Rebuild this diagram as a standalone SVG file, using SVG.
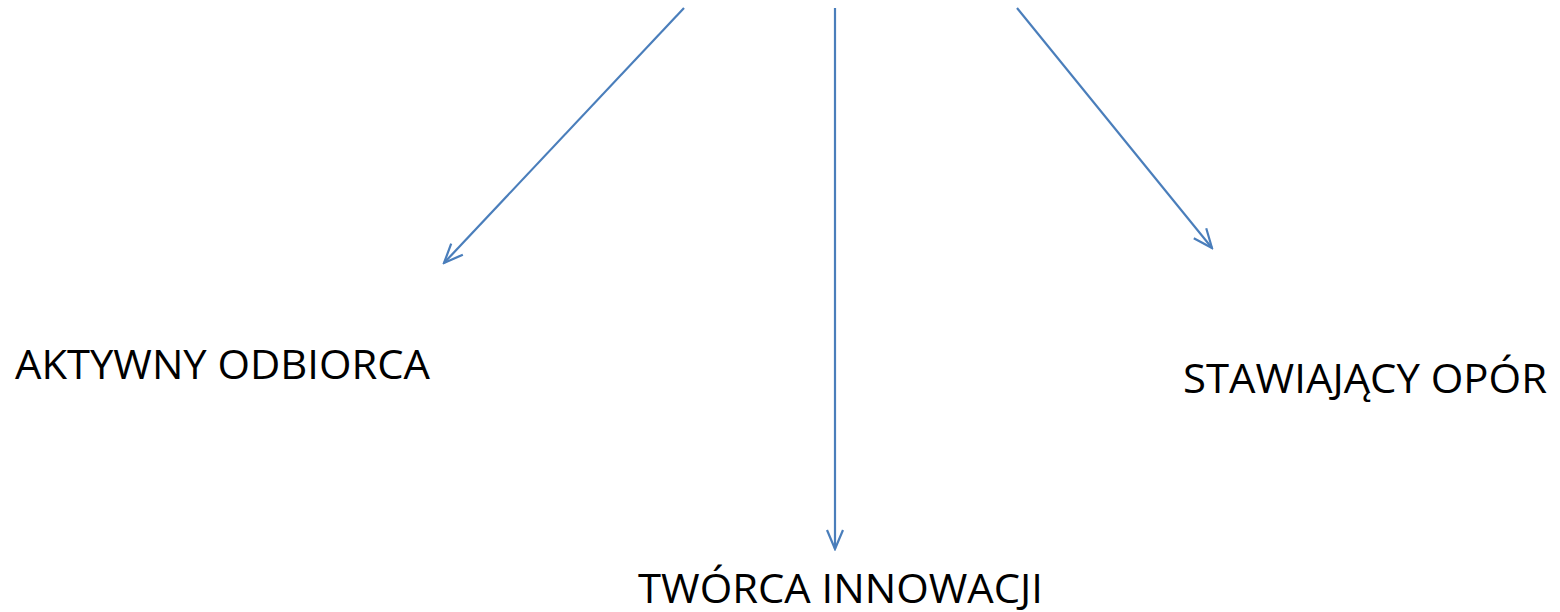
<svg xmlns="http://www.w3.org/2000/svg" width="1560" height="612" viewBox="0 0 1560 612">
<style>
.lbl{font-family:"Open Sans","Noto Sans","Liberation Sans",sans-serif;font-size:41px;fill:#000}
.con{stroke:#4a7ebb;stroke-width:2.2;fill:none}
</style>
<defs>
<marker id="arr" markerWidth="24" markerHeight="20" viewBox="-22 -10 24 20" refX="0" refY="0" orient="auto" markerUnits="userSpaceOnUse">
<path d="M-19,-8 L0,0 L-19,8" fill="none" stroke="#4a7ebb" stroke-width="2.2"/>
</marker>
</defs>
<rect width="1560" height="612" fill="#fff"/>
<g id="connectors">
<line class="con" x1="684" y1="8" x2="444" y2="263" marker-end="url(#arr)"/>
<line class="con" x1="835" y1="8" x2="835" y2="549" marker-end="url(#arr)"/>
<line class="con" x1="1017" y1="8" x2="1212" y2="248" marker-end="url(#arr)"/>
</g>
<g id="node-aktywny"><text class="lbl" x="15" y="379" textLength="415" lengthAdjust="spacingAndGlyphs">AKTYWNY ODBIORCA</text></g>
<g id="node-stawiajacy"><text class="lbl" x="1183" y="393" textLength="364" lengthAdjust="spacingAndGlyphs">STAWIAJĄCY OPÓR</text></g>
<g id="node-tworca"><text class="lbl" x="638" y="603" textLength="405" lengthAdjust="spacingAndGlyphs">TWÓRCA INNOWACJI</text></g>
</svg>
